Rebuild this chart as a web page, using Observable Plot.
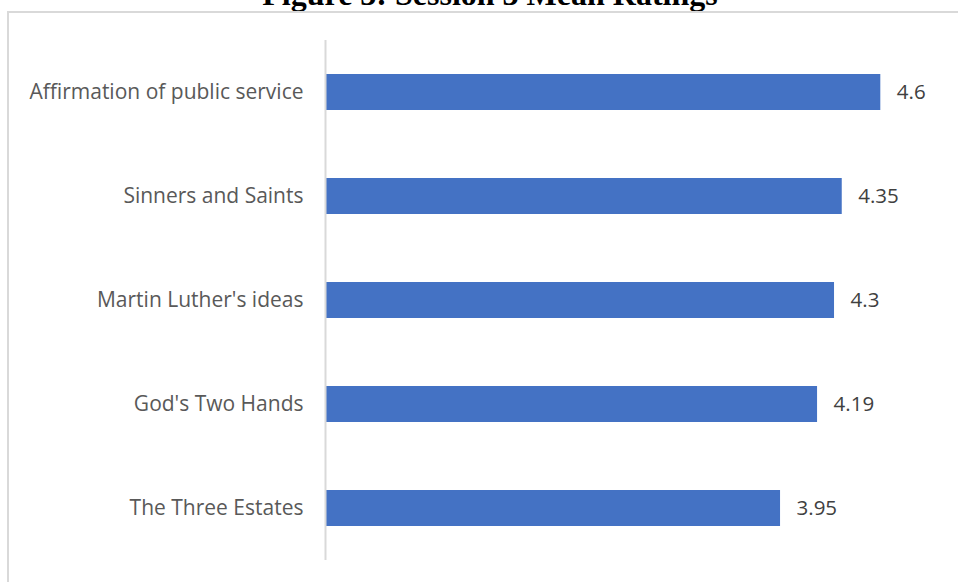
<!DOCTYPE html>
<html>
<head>
<meta charset="utf-8">
<script src="https://cdn.jsdelivr.net/npm/d3@7"></script>
<script src="https://cdn.jsdelivr.net/npm/@observablehq/plot@0.6"></script>
<style>
  html, body { margin: 0; padding: 0; background: #fff; overflow: hidden; }
  #wrap { position: relative; width: 958px; height: 582px; overflow: hidden; }
  #title { position: absolute; left: 0; width: 980px; top: -22px; line-height: 32px; text-align: center;
    font-family: "Liberation Serif", "DejaVu Serif", serif; font-weight: bold; font-size: 32px; color: #000; white-space: nowrap; }
  #frame { position: absolute; left: 7px; top: 11px; width: 1000px; height: 620px; border: 2px solid #d9d9d9; box-sizing: border-box; }
  #chart { position: absolute; left: 0; top: 0; }
</style>
</head>
<body>
<div id="wrap">
  <div id="title">Figure 3: Session 3 Mean Ratings</div>
  <div id="frame"></div>
  <div id="chart"></div>
</div>
<script>
const categories = ["Affirmation of public service", "Sinners and Saints", "Martin Luther's ideas", "God's Two Hands", "The Three Estates"];
const values = [4.6, 4.35, 4.3, 4.19, 3.95];
const axisMin = 1;
const axisMax = 5;

const data = categories.map((c, i) => ({label: c, value: values[i]}));

const chart = Plot.plot({
  width: 958,
  height: 582,
  marginLeft: 325,
  marginRight: 16,
  marginTop: 40,
  marginBottom: 22,
  style: {background: "transparent", fontFamily: "'Open Sans', 'Noto Sans', sans-serif"},
  x: {domain: [axisMin, axisMax], axis: null},
  y: {domain: categories, paddingInner: 0.65, paddingOuter: 0.325, label: null},
  marks: [
    Plot.axisY({tickSize: 0, tickPadding: 22, fontSize: 21, color: "#595959", label: null}),
    Plot.barX(data, {x1: () => axisMin, x2: "value", y: "label", fill: "#4472C4"}),
    Plot.ruleX([axisMin], {stroke: "#d9d9d9", strokeWidth: 2}),
    Plot.text(data, {x: "value", y: "label", text: d => String(d.value), dx: 16, textAnchor: "start", fontSize: 20.5, fill: "#404040"})
  ]
});
document.getElementById("chart").appendChild(chart);
</script>
</body>
</html>
